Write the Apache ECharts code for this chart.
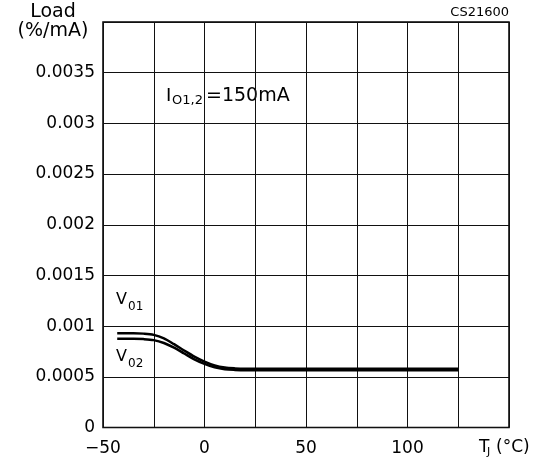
<!DOCTYPE html>
<html>
<head>
<meta charset="utf-8">
<script src="https://cdn.jsdelivr.net/npm/echarts@6/dist/echarts.min.js"></script>
<style>
html,body{margin:0;padding:0;background:#fff;}
#c{width:549px;height:463px;}
</style>
</head>
<body>
<div id="c"></div>
<script>
// ---- data ----
var tempV01 = [-43, -35, -30, -25, -20, -15, -10, -5, 0, 5, 10, 15, 20, 50, 100, 125];
var loadV01 = [0.00093, 0.00093, 0.000926, 0.000914, 0.00088, 0.000822, 0.00076, 0.0007, 0.00065, 0.000612, 0.000591, 0.000583, 0.00058, 0.00058, 0.00058, 0.00058];
var tempV02 = [-43, -35, -30, -25, -20, -15, -10, -5, 0, 5, 10, 15, 20, 50, 100, 125];
var loadV02 = [0.000875, 0.000875, 0.000872, 0.000862, 0.000834, 0.000788, 0.00073, 0.000672, 0.000627, 0.000594, 0.000575, 0.000568, 0.000565, 0.000565, 0.000565, 0.000565];
var xTickValues = [-50, 0, 50, 100];
var xTickLabels = ['\u221250', '0', '50', '100'];
var yTickValues = [0, 0.0005, 0.001, 0.0015, 0.002, 0.0025, 0.003, 0.0035];
var yTickLabels = ['0', '0.0005', '0.001', '0.0015', '0.002', '0.0025', '0.003', '0.0035'];

function pairs(xs, ys) { return xs.map(function (x, i) { return [x, ys[i]]; }); }
function findLabel(vals, labels, v) {
  for (var i = 0; i < vals.length; i++) { if (Math.abs(vals[i] - v) < 1e-9) return labels[i]; }
  return '';
}
var F = 'DejaVu Sans';
function txt(x, y, s, size, align) {
  return { type: 'text', x: x, y: y, style: { text: s, font: size + 'px "' + F + '"', fill: '#000', textAlign: align || 'left', textVerticalAlign: 'middle' } };
}

var chart = echarts.init(document.getElementById('c'), null, { renderer: 'canvas' });
chart.setOption({
  animation: false,
  backgroundColor: '#fff',
  grid: { left: 103, top: 22, right: 40, bottom: 35.5, show: true, borderColor: '#000', borderWidth: 1.5, backgroundColor: 'transparent' },
  xAxis: {
    type: 'value', min: -50, max: 150, interval: 25,
    axisLine: { show: false }, axisTick: { show: false },
    splitLine: { show: true, lineStyle: { color: '#111', width: 1 } },
    axisLabel: { color: '#000', fontFamily: F, fontSize: 17, margin: 13,
      formatter: function (v) { return findLabel(xTickValues, xTickLabels, v); } }
  },
  yAxis: {
    type: 'value', min: 0, max: 0.004, interval: 0.0005,
    axisLine: { show: false }, axisTick: { show: false },
    splitLine: { show: true, lineStyle: { color: '#111', width: 1 } },
    axisLabel: { color: '#000', fontFamily: F, fontSize: 17, margin: 8,
      formatter: function (v) { return findLabel(yTickValues, yTickLabels, v); } }
  },
  series: [
    { name: 'V01', type: 'line', data: pairs(tempV01, loadV01), smooth: 0.3, showSymbol: false, symbol: 'none',
      lineStyle: { color: '#000', width: 2.5 } },
    { name: 'V02', type: 'line', data: pairs(tempV02, loadV02), smooth: 0.3, showSymbol: false, symbol: 'none',
      lineStyle: { color: '#000', width: 2.5 } }
  ],
  graphic: [
    txt(53, 12, 'Load', 19, 'center'),
    txt(53, 31, '(%/mA)', 19, 'center'),
    txt(509, 12.5, 'CS21600', 13, 'right'),
    txt(166, 96, 'I', 18),
    txt(172, 100.5, 'O1,2', 13),
    txt(206, 96, '=150mA', 19),
    txt(116, 300, 'V', 16),
    txt(128, 306.5, '01', 12),
    txt(116, 357, 'V', 16),
    txt(128, 363.5, '02', 12),
    txt(479, 448, 'T', 17),
    txt(487, 452, 'J', 11),
    txt(496, 448, '(\u00b0C)', 17)
  ]
});
</script>
</body>
</html>
